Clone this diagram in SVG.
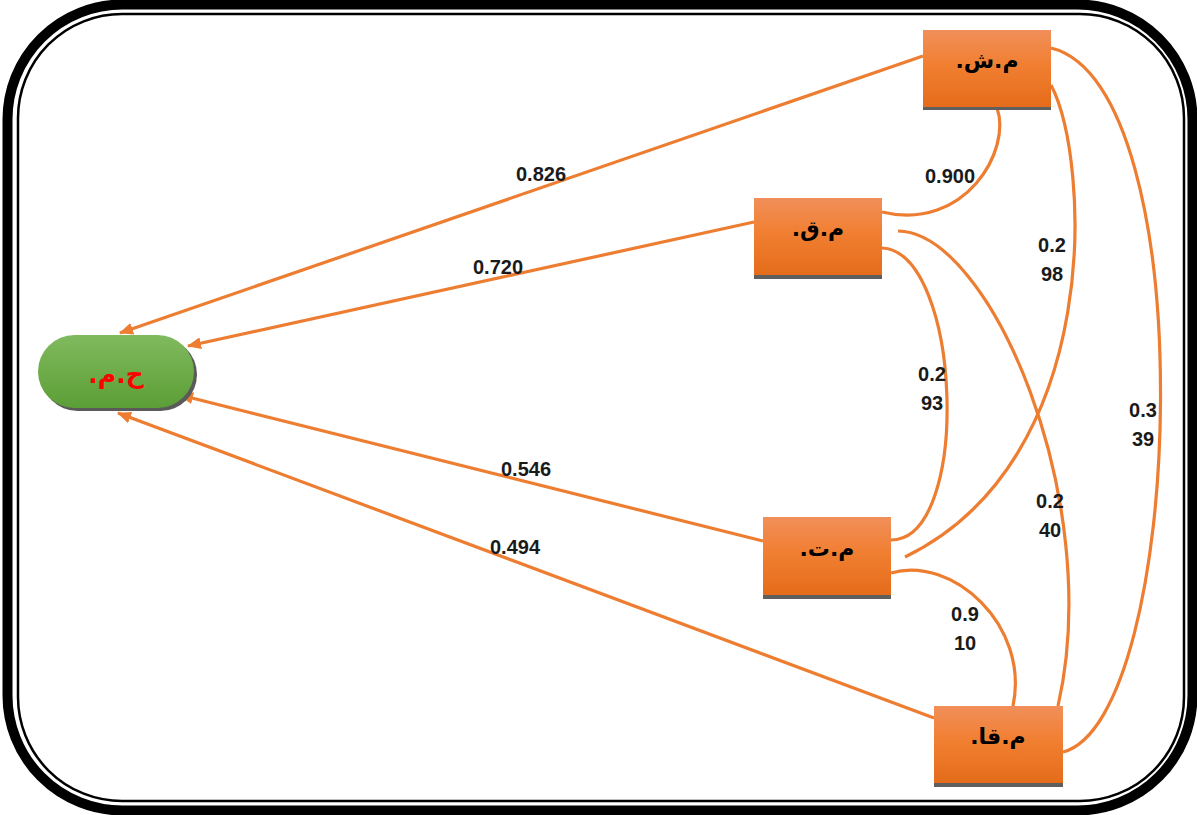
<svg xmlns="http://www.w3.org/2000/svg" width="1197" height="815" viewBox="0 0 1197 815">
  <style>
    .frame { fill: none; stroke: #000; }
    .box { fill: url(#orangeGrad); }
    .boxShadow { fill: #5f5f5f; }
    .ar { font-family: "DejaVu Sans", "Noto Sans", sans-serif; font-weight: bold; font-size: 22px; fill: #000; text-anchor: middle; direction: rtl; unicode-bidi: embed; }
    .link { fill: none; stroke: #ED7D31; stroke-width: 3.2; }
    .lbl { font-family: "Liberation Sans", Arial, sans-serif; font-weight: bold; font-size: 20px; fill: #1a1a1a; text-anchor: middle; }
  </style>
  <defs>
    <linearGradient id="orangeGrad" x1="0" y1="0" x2="0" y2="1">
      <stop offset="0" stop-color="#F18F5A"/>
      <stop offset="0.45" stop-color="#F17F32"/>
      <stop offset="1" stop-color="#E46C1A"/>
    </linearGradient>
    <linearGradient id="greenGrad" x1="0" y1="0" x2="0" y2="1">
      <stop offset="0" stop-color="#80BA5E"/>
      <stop offset="1" stop-color="#5C9E36"/>
    </linearGradient>
    <marker id="arrow" viewBox="0 0 14 12" refX="13" refY="6" markerWidth="14" markerHeight="12" markerUnits="userSpaceOnUse" orient="auto">
      <path d="M0 0 L14 6 L0 12 Z" fill="#ED7D31"/>
    </marker>
  </defs>

  <rect width="1197" height="815" fill="#fff"/>

  <!-- double frame -->
  <rect class="frame" x="7.5" y="4.5" width="1185" height="806" rx="115" ry="115" stroke-width="10"/>
  <rect class="frame" x="18" y="14" width="1166" height="787" rx="104" ry="104" stroke-width="2.5"/>

  <!-- connectors -->
  <g id="connectors">
    <line class="link" x1="923" y1="56" x2="120" y2="333" marker-end="url(#arrow)"/>
    <line class="link" x1="754" y1="222" x2="188" y2="346" marker-end="url(#arrow)"/>
    <line class="link" x1="763" y1="541" x2="180" y2="395" marker-end="url(#arrow)"/>
    <line class="link" x1="934" y1="718" x2="118" y2="413" marker-end="url(#arrow)"/>

    <path class="link" d="M997 108 C1012 150 965 232 882 212"/>
    <path class="link" d="M1051 85 C1090 160 1105 460 905 557"/>
    <path class="link" d="M1051 48 C1205 85 1185 720 1063 752"/>
    <path class="link" d="M882 248 C962 252 972 540 891 540"/>
    <path class="link" d="M898 231 C990 232 1105 500 1058 706"/>
    <path class="link" d="M891 573 C952 555 1030 625 1013 706"/>

    <text class="lbl" x="541" y="181">0.826</text>
    <text class="lbl" x="498" y="274">0.720</text>
    <text class="lbl" x="526" y="476">0.546</text>
    <text class="lbl" x="515" y="554">0.494</text>
    <text class="lbl" x="950" y="183">0.900</text>
    <text class="lbl" x="1052" y="252">0.2</text>
    <text class="lbl" x="1052" y="281">98</text>
    <text class="lbl" x="932" y="381">0.2</text>
    <text class="lbl" x="932" y="410">93</text>
    <text class="lbl" x="1143" y="417">0.3</text>
    <text class="lbl" x="1143" y="446">39</text>
    <text class="lbl" x="1050" y="508">0.2</text>
    <text class="lbl" x="1050" y="537">40</text>
    <text class="lbl" x="965" y="621">0.9</text>
    <text class="lbl" x="965" y="650">10</text>
  </g>

  <!-- outcome node -->
  <g id="node-hm">
    <rect x="41" y="338" width="156" height="73" rx="36.5" fill="#5a5a5a"/>
    <rect x="38" y="335" width="156" height="73" rx="36.5" fill="url(#greenGrad)"/>
    <text class="ar" x="116" y="383" font-size="25" fill="#FF0000" style="fill:#FF0000;font-size:25px">ح.م.</text>
  </g>

  <!-- predictor nodes -->
  <g id="node-msh">
    <rect class="boxShadow" x="923" y="104" width="128" height="6"/>
    <rect class="box" x="923" y="30" width="128" height="77"/>
    <text class="ar" x="987" y="68">م.ش.</text>
  </g>
  <g id="node-mq">
    <rect class="boxShadow" x="754" y="273" width="128" height="6"/>
    <rect class="box" x="754" y="198" width="128" height="77"/>
    <text class="ar" x="818" y="236">م.ق.</text>
  </g>
  <g id="node-mt">
    <rect class="boxShadow" x="763" y="593" width="128" height="6"/>
    <rect class="box" x="763" y="517" width="128" height="78"/>
    <text class="ar" x="827" y="556">م.ت.</text>
  </g>
  <g id="node-mqa">
    <rect class="boxShadow" x="934" y="781" width="129" height="6"/>
    <rect class="box" x="934" y="706" width="129" height="77"/>
    <text class="ar" x="998" y="744">م.قا.</text>
  </g>
</svg>
